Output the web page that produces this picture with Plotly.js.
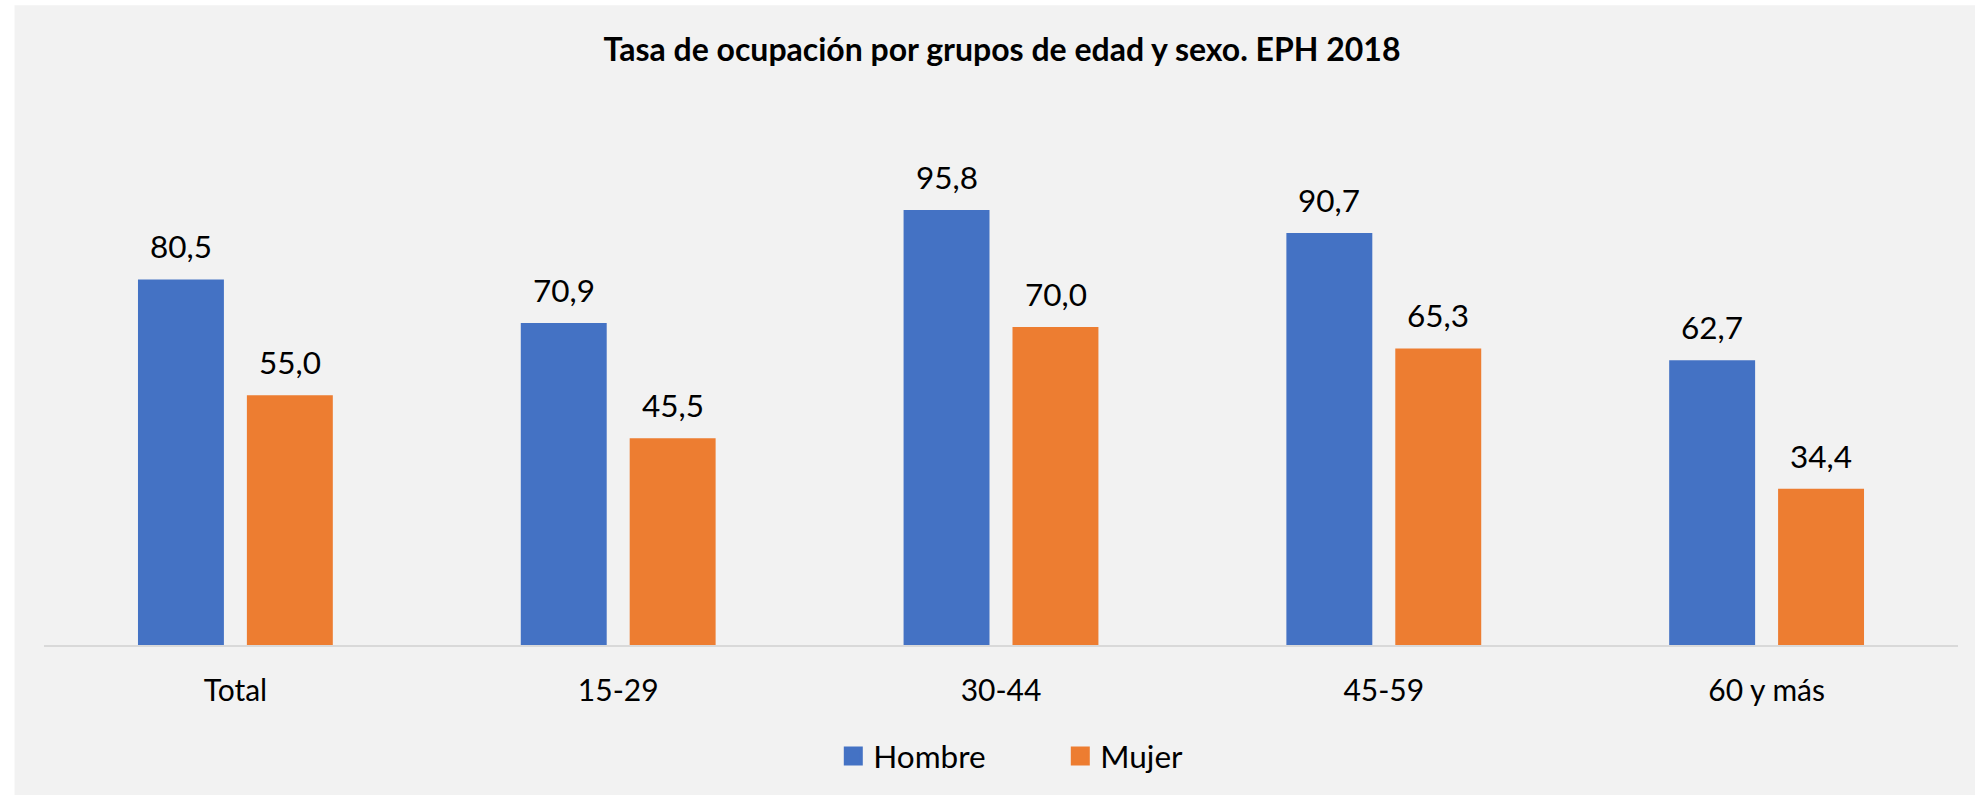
<!DOCTYPE html>
<html>
<head>
<meta charset="utf-8">
<script src="https://cdn.plot.ly/plotly-3.0.1.min.js"></script>
<style>
  html, body { margin: 0; padding: 0; background: #ffffff; }
  #chart { width: 1975px; height: 795px; }
</style>
</head>
<body>
<div id="chart"></div>
<script>
const categories = ["Total", "15-29", "30-44", "45-59", "60 y más"];
const hombre = [80.5, 70.9, 95.8, 90.7, 62.7];
const mujer = [55.0, 45.5, 70.0, 65.3, 34.4];
const seriesNames = ["Hombre", "Mujer"];
const seriesColors = ["#4472C4", "#ED7D31"];
const chartTitle = "Tasa de ocupación por grupos de edad y sexo. EPH 2018";

const W = 1975, H = 795;
const mL = 43.5, mR = 17, mT = 99.8, mB = 150;
const plotW = W - mL - mR, plotH = H - mT - mB;
const px2x = p => (p - mL) / plotW;
const px2y = p => (H - mB - p) / plotH;

const fmt = v => v.toFixed(1).replace('.', ',');
const FONT = "Lato, 'Open Sans', sans-serif";

const allSeries = [hombre, mujer];
const traces = allSeries.map((vals, i) => ({
  type: 'bar',
  name: seriesNames[i],
  x: categories,
  y: vals,
  marker: { color: seriesColors[i] },
  showlegend: false,
  hoverinfo: 'skip'
}));
// legend entries (larger square keys, as in the original)
seriesNames.forEach((nm, i) => {
  traces.push({
    type: 'scatter', mode: 'markers', name: nm,
    x: [null], y: [null],
    marker: { symbol: 'square', size: 16, color: seriesColors[i],
              line: { width: 3, color: seriesColors[i] } },
    hoverinfo: 'skip'
  });
});

// value labels via annotations, offset to each bar of the group
const slot = 109; // px between bar centers in a group
const annotations = [];
allSeries.forEach((vals, i) => {
  vals.forEach((v, j) => {
    annotations.push({
      x: categories[j], y: v, xref: 'x', yref: 'y',
      text: fmt(v), showarrow: false,
      xanchor: 'center', yanchor: 'bottom',
      xshift: (i === 0 ? -1 : 1) * slot / 2,
      yshift: 12,
      font: { family: FONT, size: 31.5, color: '#000000' }
    });
  });
});

const layout = {
  width: W, height: H,
  margin: { l: mL, r: mR, t: mT, b: mB, pad: 0 },
  paper_bgcolor: '#ffffff',
  plot_bgcolor: 'rgba(0,0,0,0)',
  barmode: 'group',
  bargap: 0.431,
  bargroupgap: 0.211,
  font: { family: FONT, size: 30, color: '#000000' },
  title: {
    text: '<b>' + chartTitle + '</b>',
    font: { family: FONT, size: 32, color: '#000000' },
    x: 1002 / W, xanchor: 'center', xref: 'container',
    y: 1 - 50 / H, yanchor: 'middle', yref: 'container'
  },
  xaxis: {
    type: 'category',
    range: [-0.5, 4.5],
    showline: true, linecolor: '#D9D9D9', linewidth: 2,
    showgrid: false, zeroline: false,
    ticks: '',
    ticklabelstandoff: 18,
    tickfont: { family: FONT, size: 30, color: '#000000' },
    fixedrange: true
  },
  yaxis: {
    range: [0, 120],
    visible: false,
    showgrid: false, zeroline: false,
    fixedrange: true
  },
  legend: {
    orientation: 'h',
    x: px2x(833), xanchor: 'left',
    y: px2y(756), yanchor: 'middle',
    entrywidth: 182,
    font: { family: FONT, size: 31.5, color: '#000000' },
    bgcolor: 'rgba(0,0,0,0)',
    traceorder: 'normal'
  },
  shapes: [{
    type: 'rect', xref: 'paper', yref: 'paper', layer: 'below',
    x0: px2x(14), x1: px2x(W + 5), y0: px2y(H + 5), y1: px2y(5),
    fillcolor: '#F2F2F2', line: { width: 0 }
  }],
  annotations: annotations,
  showlegend: true
};

Plotly.newPlot('chart', traces, layout, { displayModeBar: false, staticPlot: true });
</script>
</body>
</html>
